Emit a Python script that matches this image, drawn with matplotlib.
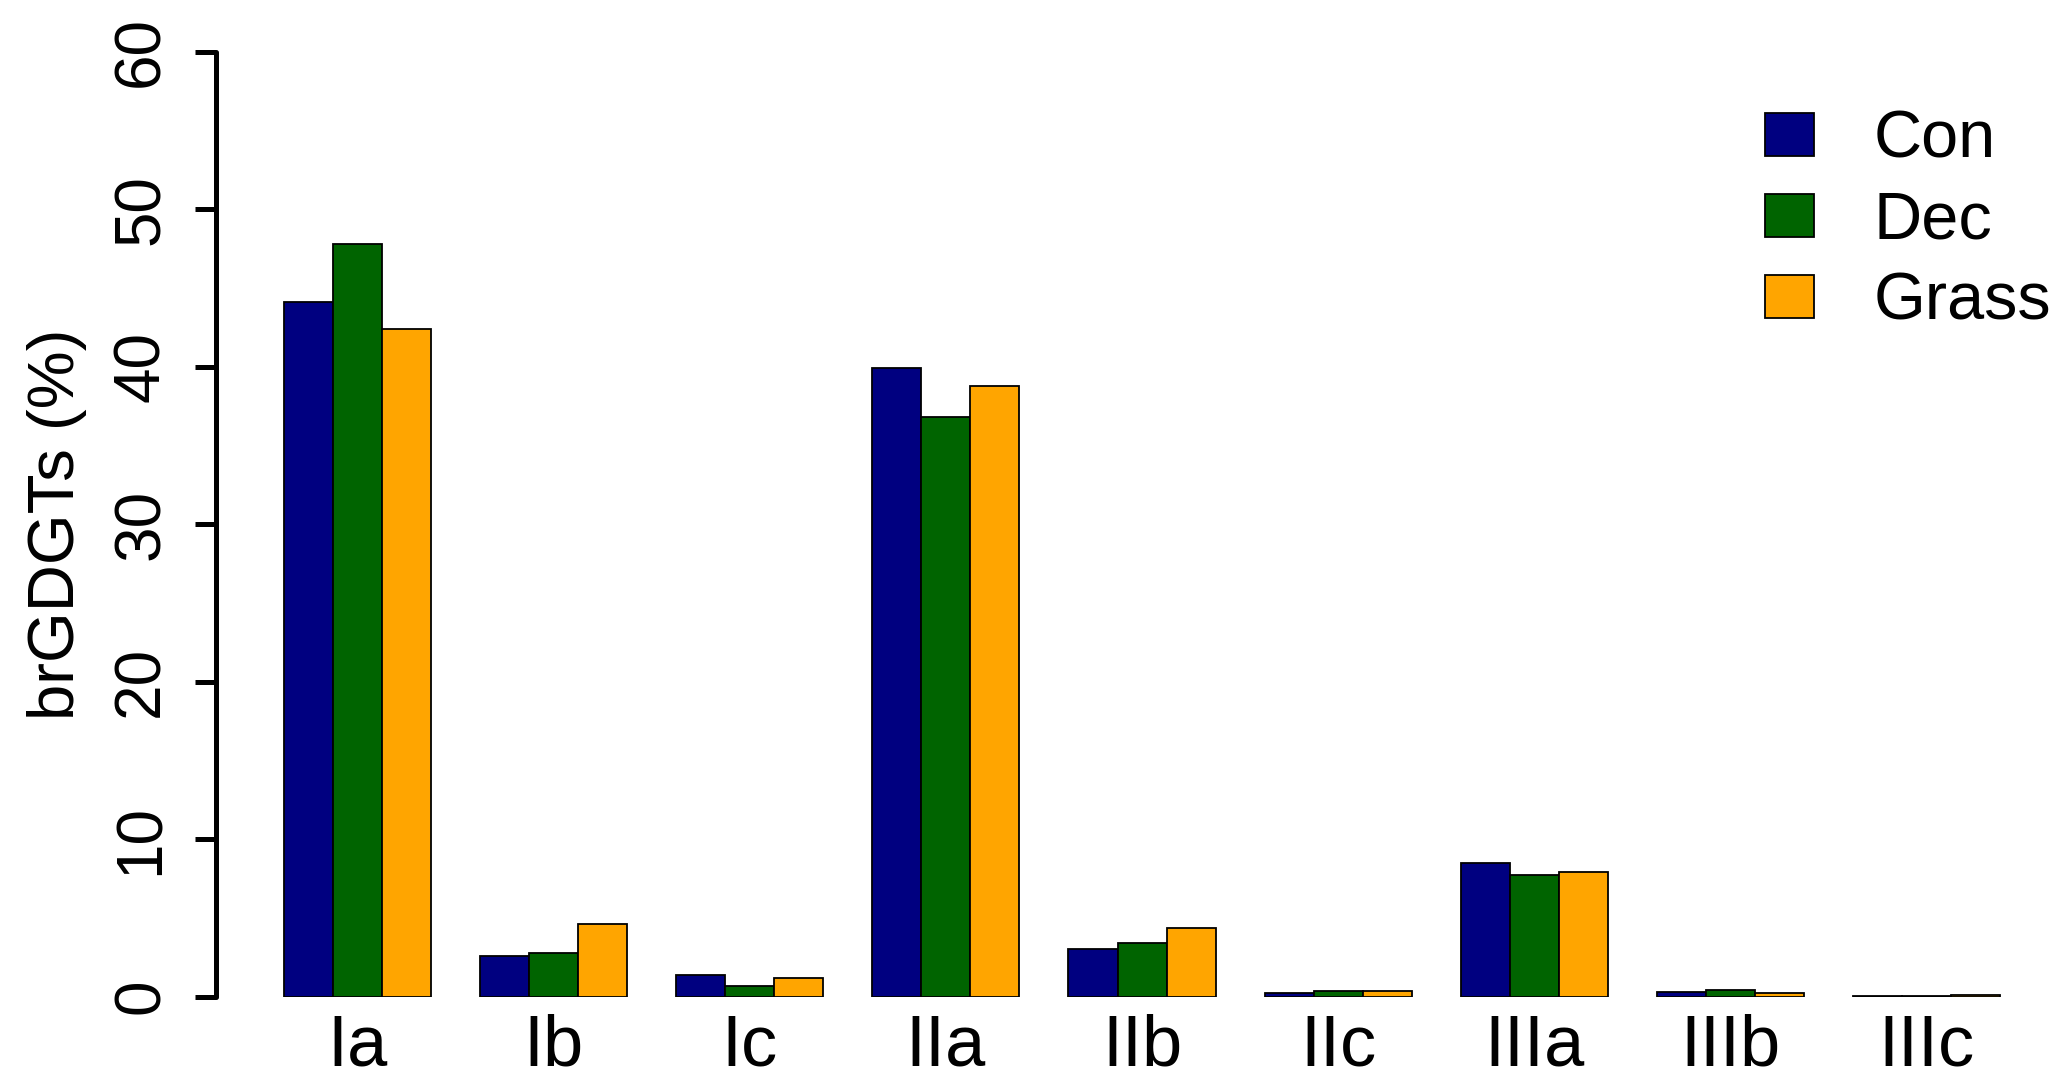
import numpy as np
import matplotlib
matplotlib.use("Agg")
import matplotlib.pyplot as plt
from matplotlib.patches import Patch

# ===========================
# DATA
# ===========================

compounds = ["Ia", "Ib", "Ic", "IIa", "IIb", "IIc", "IIIa", "IIIb", "IIIc"]
con = [44.1, 2.6, 1.4, 39.9, 3.0, 0.25, 8.5, 0.3, 0.06]
dec = [47.8, 2.75, 0.7, 36.8, 3.4, 0.35, 7.7, 0.45, 0.04]
grass = [42.4, 4.6, 1.2, 38.8, 4.35, 0.35, 7.9, 0.25, 0.12]

series_names = ["Con", "Dec", "Grass"]
series_colors = ["#000080", "#006400", "#FFA500"]

# ===========================
# PLOT
# ===========================

plt.rcParams["font.family"] = ["Liberation Sans", "DejaVu Sans"]

fig = plt.figure(figsize=(20.67, 10.89), dpi=100)
ax = fig.add_axes([0.1045, 0.0848, 0.8965, 0.9024])

# R barplot(beside=TRUE) layout: one empty bar-width between groups
group_start = np.arange(len(compounds)) * 4 + 1
for j, (vals, color) in enumerate(zip([con, dec, grass], series_colors)):
    ax.bar(group_start + j + 0.5, vals, width=1.0, color=color,
           edgecolor="black", linewidth=1.3)

ax.set_xlim(-0.38, 37.4)
ax.set_ylim(0, 62.4)

for side in ["top", "right", "bottom"]:
    ax.spines[side].set_visible(False)
ax.spines["left"].set_bounds(0, 60)
ax.spines["left"].set_linewidth(3.6)
ax.spines["left"].set_capstyle("round")

ax.set_yticks(range(0, 61, 10))
ax.tick_params(axis="y", length=15, width=3.6, pad=17, labelsize=46,
               labelrotation=90)
for lbl in ax.get_yticklabels():
    lbl.set_va("center")

ax.set_xticks(group_start + 1.5)
ax.set_xticklabels(compounds)
ax.tick_params(axis="x", length=0, pad=12, labelsize=52)

# centre the label on the R plot region (-2.4 .. 62.4) rather than the axes
ax.set_ylabel("brGDGTs (%)", fontsize=47, labelpad=18)
ax.yaxis.label.set_y(30 / 62.4)

handles = [Patch(facecolor=c, edgecolor="black", linewidth=1.3) for c in series_colors]
ax.legend(handles, series_names, loc="upper left", bbox_to_anchor=(0.854, 0.899),
          bbox_transform=fig.transFigure, frameon=False, fontsize=48,
          handlelength=0.73, handleheight=0.6, handletextpad=0.9,
          labelspacing=0.285, borderpad=0, borderaxespad=0)

fig.savefig("out.png", dpi=100)
